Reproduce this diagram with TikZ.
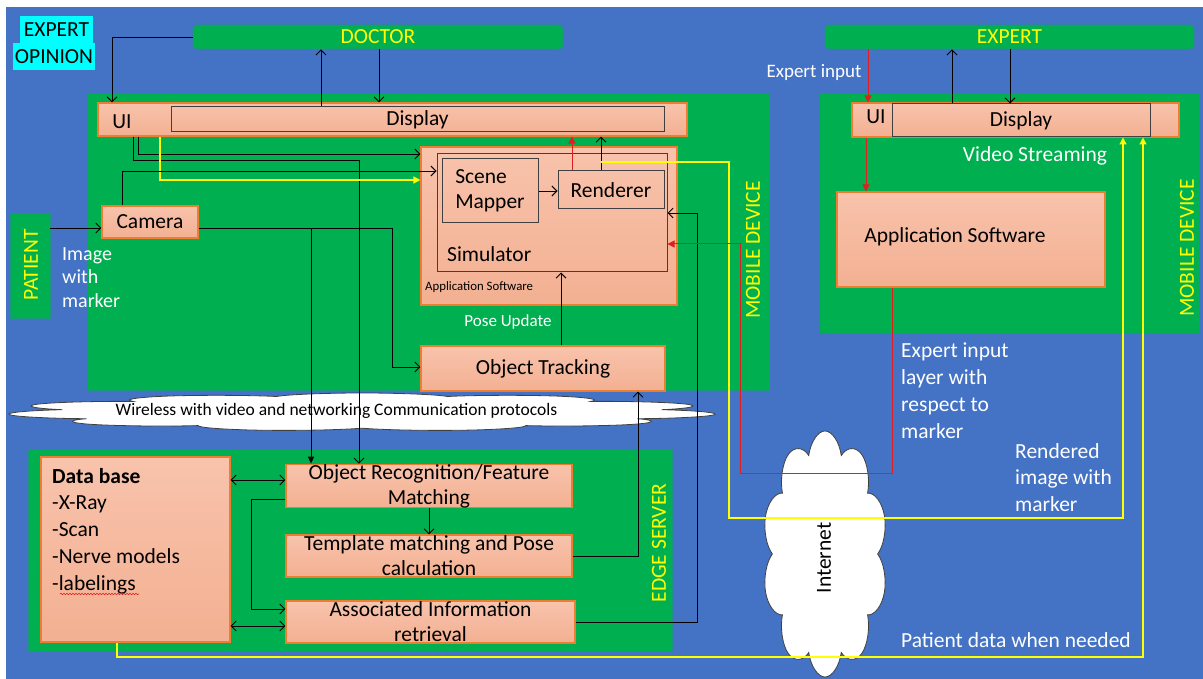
\documentclass[tikz,border=0pt]{standalone}
\usepackage{fontspec}
\setmainfont{Carlito}
\usetikzlibrary{arrows.meta,shapes.symbols,decorations.pathmorphing}

\definecolor{bgblue}{RGB}{68,114,196}
\definecolor{devgreen}{RGB}{0,176,80}
\definecolor{salmtop}{RGB}{248,195,172}
\definecolor{salmbot}{RGB}{243,176,146}
\definecolor{salmedge}{RGB}{237,125,49}
\definecolor{innergray}{RGB}{64,64,64}
\definecolor{hlcyan}{RGB}{0,255,255}
\definecolor{lblyellow}{RGB}{255,255,0}
\definecolor{linkred}{RGB}{225,30,30}

\tikzset{
  fbig/.style={font=\fontsize{21.5}{26.7}\selectfont},
  fbox/.style={font=\fontsize{21.5}{25}\selectfont},
  zone/.style={fill=devgreen, draw=devgreen!60!bgblue, line width=0.6pt, inner sep=0},
  topbar/.style={fill=devgreen, draw=devgreen!50!bgblue, line width=0.8pt, rounded corners=4pt,
    inner sep=0, fbig, text=lblyellow},
  salm/.style={top color=salmtop, bottom color=salmbot, draw=salmedge, line width=1.1pt,
    inner sep=0, fbox},
  innerbox/.style={draw=innergray, line width=1pt, inner sep=0, fbox},
  vlabel/.style={fbig, text=lblyellow, rotate=90, inner sep=0},
  wlabel/.style={fbig, text=white, inner sep=0},
  blink/.style={draw=black, line width=0.9pt, -{Straight Barb[length=5pt,width=10pt]}},
  blinktwo/.style={draw=black, line width=0.9pt,
    {Straight Barb[length=5pt,width=10pt]}-{Straight Barb[length=5pt,width=10pt]}},
  blinkfill/.style={draw=black, line width=0.9pt, -{Triangle[length=7pt,width=6pt]}},
  rlink/.style={draw=linkred, line width=1pt, -{Triangle[length=7pt,width=7pt]}},
  ylink/.style={draw=lblyellow, line width=1.3pt, -{Triangle[length=7pt,width=7pt]}},
  puffs/.style={cloud, draw=black!75, fill=white, line width=0.8pt, inner sep=0,
    minimum width=100pt, minimum height=100pt, aspect=1, transform shape},
}

\begin{document}
\begin{tikzpicture}[x=1pt, y=-1pt]
\useasboundingbox (0,0) rectangle (1203,679);
\fill[white] (0,0) rectangle (1203,679);
\fill[bgblue] (6,7) rectangle (1203,679);

% ---------- zones ----------
\node[zone, minimum width=682pt, minimum height=297pt] (devL) at (428,241.5) {};
\node[zone, minimum width=380pt, minimum height=240pt] (devR) at (1009,213) {};
\node[zone, minimum width=644pt, minimum height=202pt] (edge) at (350,550) {};
\node[zone, minimum width=40pt, minimum height=105pt] (patient) at (30,265.5) {};

\node[topbar, minimum width=370pt, minimum height=24pt] (doctor) at (378,37) {DOCTOR};
\node[topbar, minimum width=369pt, minimum height=24pt] (expert) at (1009.5,37) {EXPERT};

\node[fbig, fill=hlcyan, inner sep=0, minimum width=73pt, minimum height=27pt] (eoA) at (56.5,29.5) {EXPERT};
\node[fbig, fill=hlcyan, inner sep=0, minimum width=82pt, minimum height=27pt] (eoB) at (54,56.5) {OPINION};

\node[vlabel] (patientlbl) at (31,265) {PATIENT};
\node[vlabel] (mobLlbl) at (753,250) {MOBILE DEVICE};
\node[vlabel] (mobRlbl) at (1187,248) {MOBILE DEVICE};
\node[vlabel] (edgelbl) at (659,543) {EDGE SERVER};

% ---------- clouds (round clouds stretched to size) ----------
\begin{scope}[shift={(362,412)}, xscale=7.12, yscale=0.38]
  \node[puffs, cloud puffs=11] (wcloud) at (0,0) {};
\end{scope}
\node[font=\fontsize{17.5}{20}\selectfont, inner sep=0] (wtxt) at (336.5,411)
  {Wireless with video and networking Communication protocols};
\begin{scope}[shift={(825,554)}, xscale=1.25, yscale=2.46]
  \node[puffs, cloud puffs=10] (inet) at (0,0) {};
\end{scope}
\node[fbig, rotate=90, inner sep=0] (inettxt) at (824,558) {Internet};

% ---------- mobile device of the doctor ----------
\node[salm, minimum width=589pt, minimum height=33pt] (uiL) at (392.5,119.5) {};
\node[fbox, inner sep=0] (uiLtxt) at (122,122) {UI};
\node[innerbox, minimum width=493pt, minimum height=25pt] (dispL) at (417.5,119.5) {\raisebox{-2pt}{Display}};

\node[salm, minimum width=96pt, minimum height=32pt] (camera) at (150,222) {Camera};

\node[salm, minimum width=256pt, minimum height=158pt] (appL) at (549,226) {};
\node[font=\fontsize{12.8}{15}\selectfont, anchor=west, inner sep=0] (appLtxt) at (425,287) {Application Software};
\node[innerbox, minimum width=230pt, minimum height=118pt] (sim) at (552,213) {};
\node[fbox, anchor=west, inner sep=0] (simtxt) at (447,254) {Simulator};
\node[innerbox, minimum width=96pt, minimum height=64pt, align=left] (scene) at (490,191) {Scene\\Mapper};
\node[innerbox, minimum width=106pt, minimum height=38pt] (renderer) at (611,190) {Renderer};

\node[salm, minimum width=244pt, minimum height=45pt] (track) at (543,368.5) {Object Tracking};
\node[font=\fontsize{17}{20}\selectfont, text=white, inner sep=0] (poselbl) at (508,322) {Pose Update};

\node[font=\fontsize{20}{23.5}\selectfont, text=white, align=left, anchor=north west, inner sep=0]
  (imglbl) at (62,247) {Image\\with\\marker};

% ---------- mobile device of the expert ----------
\node[salm, minimum width=327pt, minimum height=34pt] (uiR) at (1015.5,120) {};
\node[fbox, inner sep=0] (uiRtxt) at (876,117) {UI};
\node[innerbox, minimum width=258pt, minimum height=33pt] (dispR) at (1021,120.5) {\raisebox{-1.5pt}{Display}};
\node[salm, minimum width=268pt, minimum height=95pt] (appR) at (971,239.5) {};
\node[fbox, inner sep=0] (appRtxt) at (955,237) {Application Software};

\node[wlabel] (vslbl) at (1035,156) {Video Streaming};
\node[font=\fontsize{19}{22}\selectfont, text=white, inner sep=0] (eilbl) at (814,72) {Expert input};
\node[wlabel, align=left, anchor=north west] (layerlbl) at (901,343) {Expert input\\layer with\\respect to\\marker};
\node[wlabel, align=left, anchor=north west] (rendlbl) at (1015,443) {Rendered\\image with\\marker};
\node[wlabel] (pdlbl) at (1016,640) {Patient data when needed};

% ---------- edge server ----------
\node[salm, minimum width=189pt, minimum height=185pt] (db) at (135.5,549.5) {};
\node[fbig, align=left, anchor=north west, inner sep=0] (dbtxt) at (52,468)
  {\textbf{Data base}\\-X-Ray\\-Scan\\-Nerve models\\-labelings};
\draw[linkred, line width=0.6pt, decorate, decoration={snake, amplitude=0.7pt, segment length=3pt}]
  (60,594) -- (139,594);
\node[salm, minimum width=286pt, minimum height=42pt, align=center] (objrec) at (429,486) {Object Recognition/Feature\\Matching};
\node[salm, minimum width=286pt, minimum height=42pt, align=center] (templ) at (429,556) {Template matching and Pose\\calculation};
\node[salm, minimum width=289pt, minimum height=42pt, align=center] (assoc) at (430.5,622) {Associated Information\\retrieval};

% ---------- routing points ----------
\coordinate (pA) at (112,0);
\coordinate (pB) at (321,0);
\coordinate (pC) at (379,0);
\coordinate (pD) at (138,154);
\coordinate (pE) at (133,160);
\coordinate (pE2) at (359,160);
\coordinate (pF) at (160,180);
\coordinate (pG) at (122,171);
\coordinate (pH) at (392,228);
\coordinate (pH2) at (392,367);
\coordinate (pI) at (311,228);
\coordinate (pJ) at (572,0);
\coordinate (pK) at (601,162);
\coordinate (pL) at (729,518);
\coordinate (pM) at (1123,0);
\coordinate (pN) at (1143,657);
\coordinate (pO) at (117,0);
\coordinate (pP) at (740,473);
\coordinate (pP2) at (0,244);
\coordinate (pQ) at (892,0);
\coordinate (pR) at (868,0);
\coordinate (pS) at (866,0);
\coordinate (pT) at (952,0);
\coordinate (pU) at (1010,0);
\coordinate (pV) at (697,213);
\coordinate (pW) at (638,0);
\coordinate (pX1) at (0,499);
\coordinate (pX2) at (251,609);
\coordinate (pY) at (429,0);
\coordinate (pZ) at (561,0);
\coordinate (pDB1) at (0,480);
\coordinate (pDB2) at (0,626);
\coordinate (pPat) at (0,228);

% ---------- connectors ----------
\draw[blink] (doctor.west) -| (uiL.north -| pA);
\draw[blink] (dispL.north -| pB) -- (doctor.south -| pB);
\draw[blink] (doctor.south -| pC) -- (uiL.north -| pC);
\draw[blink] (patient.east |- pPat) -- (camera.west |- pPat);

\draw[blink] (uiL.south -| pD) |- (appL.west |- pD);
\draw[blink] (uiL.south -| pE) |- (pE2) -- (objrec.north -| pE2);
\draw[ylink] (uiL.south -| pF) |- (appL.west |- pF);
\draw[blink] (camera.north -| pG) |- (sim.west |- pG);
\draw[blink] (camera.east |- pH) -| (pH2) -- (track.west |- pH2);
\draw[blinkfill] (pI) -- (objrec.north -| pI);

\draw[blink] (scene.east) -- (scene.east -| renderer.west);
\draw[rlink] (renderer.north -| pJ) -- (uiL.south -| pJ);
\draw[blink] (renderer.north -| pK) -- (uiL.south -| pK);
\draw[ylink] (pK) -| (pL) -| (dispR.south -| pM);
\draw[ylink] (db.south -| pO) |- (pN) -- (dispR.south -| pN);

\draw[blink] (track.north -| pZ) -- (sim.south -| pZ);
\draw[blink] (templ.east) -| (track.south -| pW);
\draw[blink] (assoc.east) -| (pV) -- (sim.east |- pV);
\draw[rlink] (appR.south -| pQ) |- (pP) |- (sim.east |- pP2);

\draw[rlink] (expert.south -| pR) -- (uiR.north -| pR);
\draw[rlink] (uiR.south -| pS) -- (appR.north -| pS);
\draw[blink] (dispR.north -| pT) -- (expert.south -| pT);
\draw[blink] (expert.south -| pU) -- (dispR.north -| pU);

\draw[blinktwo] (db.east |- pDB1) -- (objrec.west |- pDB1);
\draw[blinktwo] (db.east |- pDB2) -- (assoc.west |- pDB2);
\draw[blink] (objrec.west |- pX1) -| (pX2) -- (assoc.west |- pX2);
\draw[blink] (objrec.south -| pY) -- (templ.north -| pY);
\end{tikzpicture}
\end{document}
